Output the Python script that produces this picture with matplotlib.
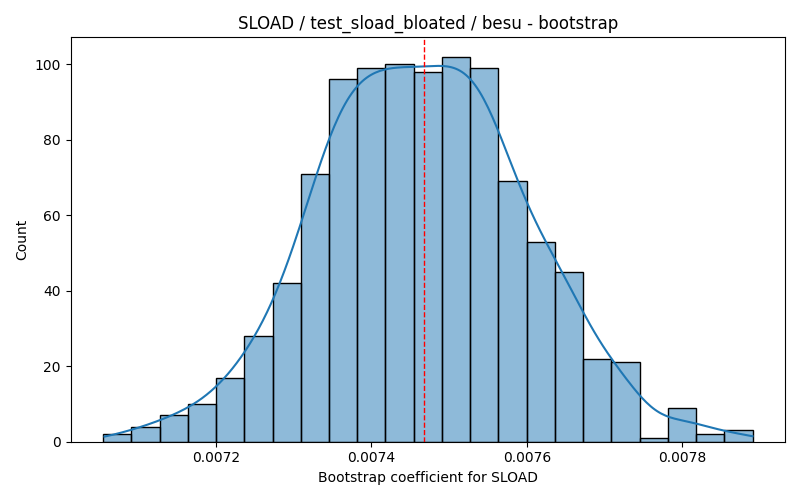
import numpy as np
import matplotlib
matplotlib.use("Agg")
import matplotlib.pyplot as plt
from matplotlib.colors import to_rgba

# Histogram data
bin_start = 0.0070551
bin_end = 0.0078904
counts = [2, 4, 7, 10, 17, 28, 42, 71, 96, 99, 100, 98, 102, 99, 69, 53, 45, 22, 21, 1, 9, 2, 3]
point_estimate = 0.0074672

title = "SLOAD / test_sload_bloated / besu - bootstrap"
xlabel = "Bootstrap coefficient for SLOAD"
ylabel = "Count"

counts = np.array(counts)
edges = np.linspace(bin_start, bin_end, len(counts) + 1)
width = edges[1] - edges[0]
centers = (edges[:-1] + edges[1:]) / 2

fig, ax = plt.subplots(figsize=(8, 5), dpi=100)
ax.bar(edges[:-1], counts, width=width, align="edge",
       facecolor=to_rgba("C0", 0.5), edgecolor="black", linewidth=1)

# KDE from binned samples (Scott's rule)
samples = np.repeat(centers, counts)
n = samples.size
bw = samples.std(ddof=1) * n ** (-1 / 5)
grid = np.linspace(edges[0] + width * 0.05, edges[-1], 300)
dens = np.exp(-0.5 * ((grid[:, None] - samples[None, :]) / bw) ** 2).sum(axis=1)
dens /= (n * bw * np.sqrt(2 * np.pi))
ax.plot(grid, dens * n * width, color="C0", linewidth=1.5)

ax.axvline(point_estimate, color="red", linestyle="--", linewidth=1)

ax.set_title(title)
ax.set_xlabel(xlabel)
ax.set_ylabel(ylabel)
ax.set_xticks([0.0072, 0.0074, 0.0076, 0.0078])
ax.set_xticklabels(["0.0072", "0.0074", "0.0076", "0.0078"])
fig.tight_layout()
fig.savefig("out.png")
